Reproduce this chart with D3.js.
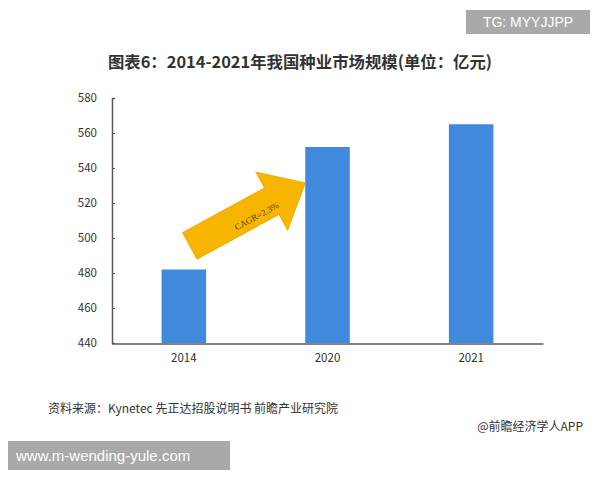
<!DOCTYPE html>
<html><head><meta charset="utf-8">
<script src="https://cdn.jsdelivr.net/npm/d3@7"></script>
<style>body{margin:0;background:#fff}svg{display:block}</style>
</head><body>
<script>
const categories = ["2014", "2020", "2021"];
const values = [482, 552, 565];
const yTicks = [440, 460, 480, 500, 520, 540, 560, 580];
const titleText = "图表6：2014-2021年我国种业市场规模(单位：亿元)";
const sourceText = "资料来源：Kynetec 先正达招股说明书 前瞻产业研究院";
const brandText = "@前瞻经济学人APP";
const cagrText = "CAGR=2.3%";

const W = 600, H = 480;
const svg = d3.select("body").append("svg").attr("width", W).attr("height", H);
const font = "'Noto Sans CJK SC','Noto Sans',sans-serif";

const x = d3.scaleBand().domain(categories).range([112, 543]).paddingInner(0.69).paddingOuter(0.345);
const y = d3.scaleLinear().domain([440, 580]).range([343, 98]);

// title
svg.append("text").attr("x", 300).attr("y", 68).attr("text-anchor", "middle")
  .attr("font-family", font).attr("font-weight", "bold").attr("font-size", 16.4).attr("fill", "#333")
  .text(titleText);

// bars
svg.selectAll("rect.bar").data(values).enter().append("rect").attr("class", "bar")
  .attr("x", (d, i) => x(categories[i])).attr("width", x.bandwidth())
  .attr("y", d => y(d)).attr("height", d => y(440) - y(d)).attr("fill", "#4189dd");

// y axis
const yAxis = svg.append("g").attr("transform", "translate(112,0)")
  .call(d3.axisRight(y).tickValues(yTicks).tickSize(3).tickFormat(""));
yAxis.select(".domain").attr("stroke", "#595959").attr("stroke-width", 1.5);
yAxis.selectAll(".tick line").attr("stroke", "#595959");
svg.selectAll("text.ylab").data(yTicks).enter().append("text").attr("class", "ylab")
  .attr("x", 97).attr("y", d => y(d)).attr("dy", "0.35em").attr("text-anchor", "end")
  .attr("font-family", font).attr("font-size", 11.5).attr("fill", "#333").text(d => d);

// x axis
const xAxis = svg.append("g").attr("transform", "translate(0,343.5)")
  .call(d3.axisBottom(x).tickSize(0).tickPadding(10));
xAxis.select(".domain").attr("stroke", "#595959").attr("stroke-width", 1.5);
xAxis.selectAll("text").attr("font-family", font).attr("font-size", 11.5).attr("fill", "#333");

// CAGR arrow, anchored to data positions
const tail = [x("2014") + x.bandwidth() / 2 + 6, y(495.5)];
const tip = [x("2020"), y(531.5)];
const dx = tip[0] - tail[0], dy = tip[1] - tail[1];
const L = Math.hypot(dx, dy), ang = Math.atan2(dy, dx) * 180 / Math.PI;
const sw = 15, hw = 33, hl = 38;
const arrowPts = [[0, -sw], [L - hl, -sw], [L - hl, -hw], [L, 0], [L - hl, hw], [L - hl, sw], [0, sw]];
const ag = svg.append("g").attr("transform", `translate(${tail[0]},${tail[1]}) rotate(${ang})`);
ag.append("path").attr("d", d3.line()(arrowPts) + "Z").attr("fill", "#f7b500").attr("stroke", "#f0ad00").attr("stroke-width", 1);
ag.append("text").attr("x", (L - hl) / 2 + 26).attr("y", 9).attr("text-anchor", "middle")
  .attr("font-family", "'Liberation Serif','DejaVu Serif',serif").attr("font-size", 9).attr("fill", "#5a4200")
  .text(cagrText);

// footer texts
svg.append("text").attr("x", 48).attr("y", 413).attr("font-family", font).attr("font-size", 12).attr("fill", "#333").text(sourceText);
svg.append("text").attr("x", 583).attr("y", 431).attr("text-anchor", "end").attr("font-family", font).attr("font-size", 12).attr("fill", "#333").text(brandText);

// overlay boxes
svg.append("rect").attr("x", 466).attr("y", 10).attr("width", 124).attr("height", 24).attr("fill", "#a9a9a9");
svg.append("text").attr("x", 528).attr("y", 27).attr("text-anchor", "middle").attr("font-family", "'Liberation Sans',Arial,sans-serif").attr("font-size", 14).attr("fill", "#fff").text("TG: MYYJJPP");
svg.append("rect").attr("x", 8).attr("y", 441).attr("width", 222).attr("height", 29).attr("fill", "#a9a9a9");
svg.append("text").attr("x", 16).attr("y", 461).attr("font-family", "'Liberation Sans',Arial,sans-serif").attr("font-size", 15).attr("fill", "#fff").text("www.m-wending-yule.com");
</script>
</body></html>
